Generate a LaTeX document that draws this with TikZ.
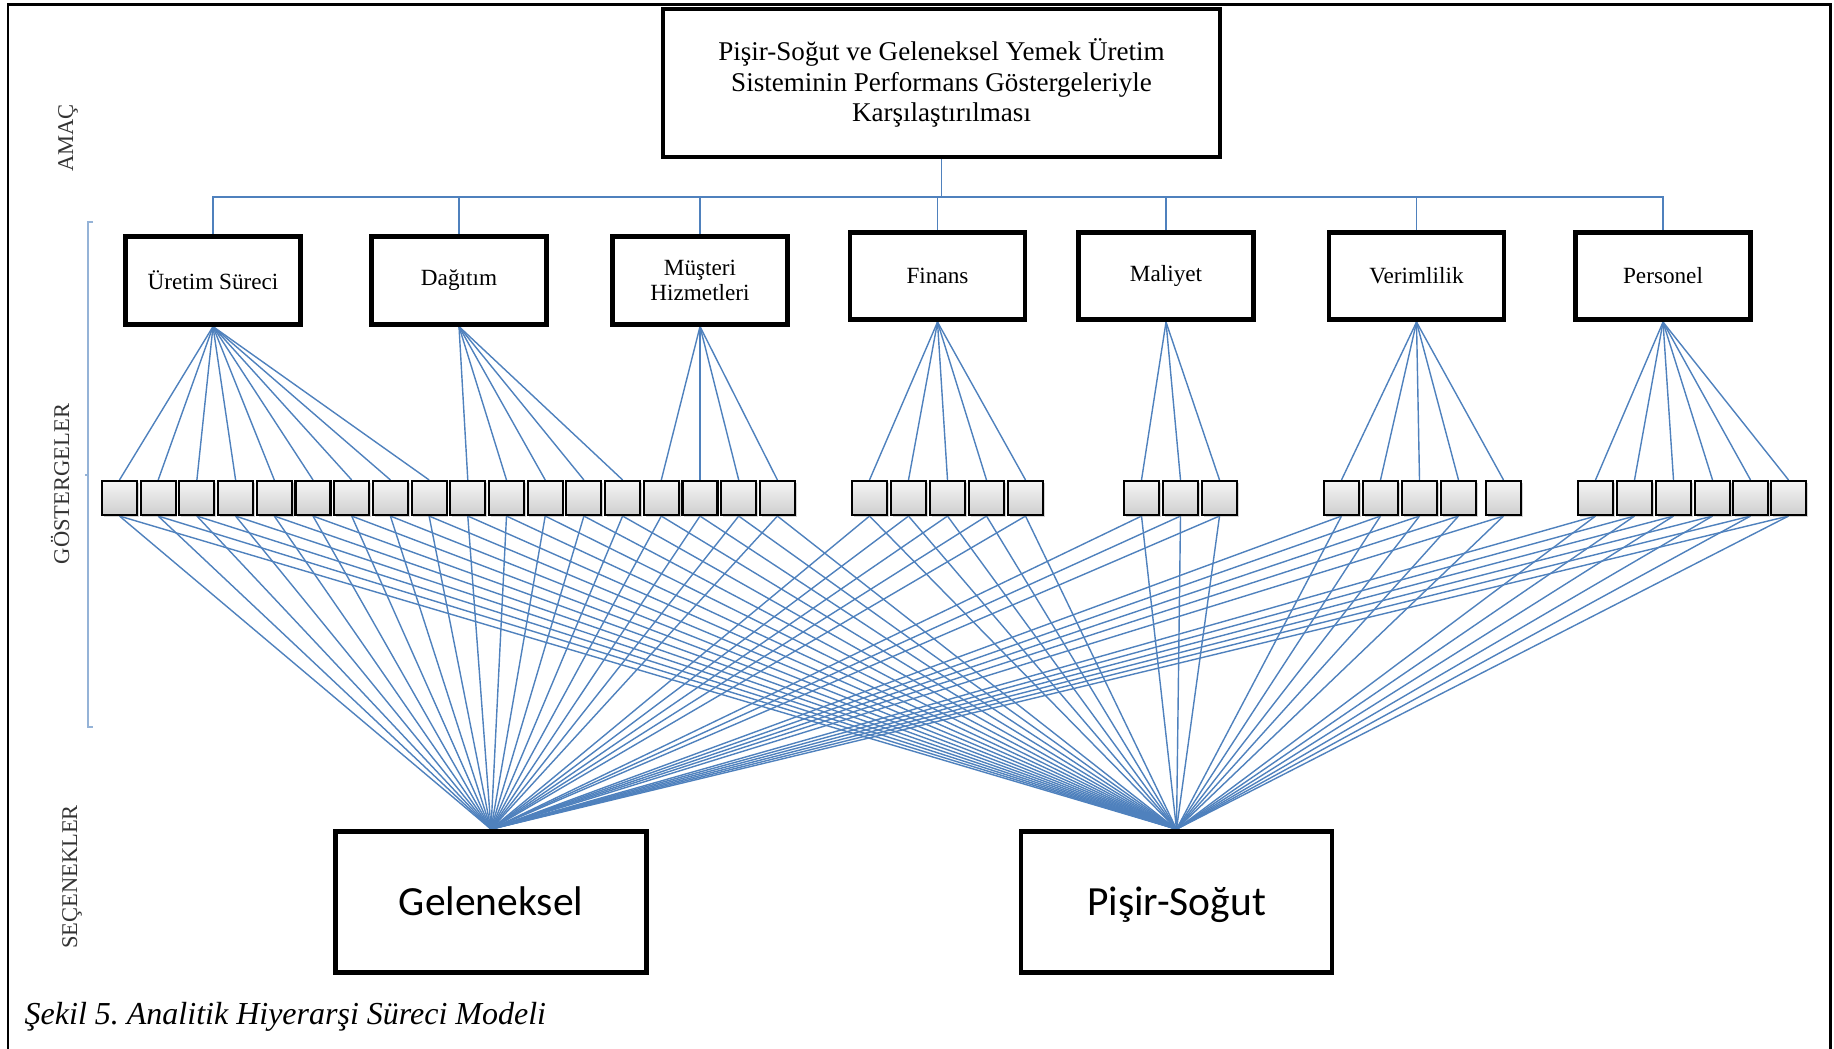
\documentclass[tikz,border=0pt]{standalone}
\usepackage{fontspec}
\setmainfont{Liberation Serif}
\newfontfamily\calfont{Carlito}
\usetikzlibrary{shadows,backgrounds}
\definecolor{lineblue}{RGB}{79,129,189}
\definecolor{bracketblue}{RGB}{149,179,215}
\frenchspacing
\begin{document}
\begin{tikzpicture}[x=0.01cm,y=-0.01cm,
  blueline/.style={draw=lineblue, line width=0.4pt},
  topbox/.style={draw, line width=1.2pt, fill=white, minimum width=5.57cm, minimum height=1.48cm, align=center, inner sep=0pt, font=\fontsize{7.7}{8.6}\selectfont},
  catbox/.style={draw, line width=1.3pt, fill=white, minimum width=1.75cm, minimum height=0.875cm, align=center, inner sep=0pt, font=\fontsize{6.6}{7.0}\selectfont},
  altbox/.style={draw, line width=1.3pt, fill=white, minimum width=3.11cm, minimum height=1.41cm, inner sep=0pt, text height=10pt, text depth=2.4pt, font=\calfont\fontsize{11.8}{14}\selectfont},
  indbox/.style={draw, line width=0.6pt, top color=gray!8, bottom color=gray!38, minimum width=0.35cm, minimum height=0.34cm, inner sep=0pt, drop shadow={shadow xshift=0.5pt, shadow yshift=-0.7pt, opacity=0.35}},
  sidelabel/.style={rotate=90, inner sep=0pt, text=black!80, font=\fontsize{6.4}{7}\selectfont}]
\useasboundingbox (0,0) rectangle (1834,1049);
% outer frame (open at the bottom)
\draw[line width=0.85pt] (8,1049) -- (8,5) -- (1830,5) -- (1830,1049);
% side labels and bracket
\node[sidelabel] (lamac) at (68,138) {AMAÇ};
\node[sidelabel] (lgost) at (60,484) {GÖSTERGELER};
\node[sidelabel] (lsec) at (72,877) {SEÇENEKLER};
\draw[bracketblue, line width=0.6pt] (93,222) -- (88,222) -- (88,727) -- (93,727);
\draw[bracketblue, line width=0.6pt] (88,475) -- (85,475);
% goal
\node[topbox] (goal) at (941.5,83) {Pişir-Soğut ve Geleneksel Yemek Üretim\\Sisteminin Performans Göstergeleriyle\\Karşılaştırılması};
% criteria
\node[catbox] (c1) at (213,280.5) {Üretim Süreci};
\node[catbox] (c2) at (459,280.5) {Dağıtım};
\node[catbox] (c3) at (700,280.5) {Müşteri\\Hizmetleri};
\node[catbox] (c4) at (937.5,276) {Finans};
\node[catbox] (c5) at (1166,276) {Maliyet};
\node[catbox] (c6) at (1416.5,276) {Verimlilik};
\node[catbox] (c7) at (1663,276) {Personel};
\coordinate (hub) at (941.5,197);
% indicators
\foreach \xx [count=\i] in {119.5,158.2,196.9,235.6,274.3,313,351.7,390.4,429.1,467.8,506.5,545.2,583.9,622.6,661.3,700,738.7,777.4,869.5,908.5,947.5,986.5,1025.5,1141.5,1180.5,1219.5,1341.5,1380.5,1419.5,1458.5,1503.5,1595.5,1634.5,1673.5,1712.5,1750.5,1788.5}
  \node[indbox] (s\i) at (\xx,498) {};
% alternatives
\node[altbox] (gel) at (491,902) {Geleneksel};
\node[altbox] (pis) at (1176.5,902) {Pişir-Soğut};
% caption
\node[anchor=base west, inner sep=0pt, font=\itshape\fontsize{9.1}{11}\selectfont] (cap) at (24,1024) {Şekil 5. Analitik Hiyerarşi Süreci Modeli};
% connectors
\begin{scope}[on background layer]
\draw[blueline] (goal.south) -- (hub);
\foreach \c in {c1,c2,c3,c4,c5,c6,c7} \draw[blueline] (hub) -| (\c.north);
\foreach \i in {1,...,9} \draw[blueline] (c1.south) -- (s\i.north);
\foreach \i in {10,...,14} \draw[blueline] (c2.south) -- (s\i.north);
\foreach \i in {15,...,18} \draw[blueline] (c3.south) -- (s\i.north);
\foreach \i in {19,...,23} \draw[blueline] (c4.south) -- (s\i.north);
\foreach \i in {24,...,26} \draw[blueline] (c5.south) -- (s\i.north);
\foreach \i in {27,...,31} \draw[blueline] (c6.south) -- (s\i.north);
\foreach \i in {32,...,37} \draw[blueline] (c7.south) -- (s\i.north);
\foreach \i in {1,...,37} {
  \draw[blueline] (s\i.south) -- (gel.north);
  \draw[blueline] (s\i.south) -- (pis.north);
}
\end{scope}
\end{tikzpicture}
\end{document}
